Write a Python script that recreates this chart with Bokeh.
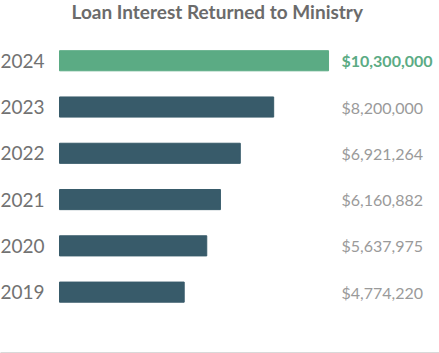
from bokeh.plotting import figure
from bokeh.models import Range1d, LinearAxis, ColumnDataSource, FixedTicker
from bokeh.core.properties import value
from bokeh.embed import file_html
from bokeh.resources import INLINE

# ---- data ----
years = [2024, 2023, 2022, 2021, 2020, 2019]
year_labels = ["2024", "2023", "2022", "2021", "2020", "2019"]
amounts = [10300000, 8200000, 6921264, 6160882, 5637975, 4774220]
amount_labels = ["$10,300,000", "$8,200,000", "$6,921,264", "$6,160,882",
                 "$5,637,975", "$4,774,220"]
highlight = [True, False, False, False, False, False]

# ---- styles ----
GREEN = "#5BAB84"
DARK = "#385B6A"
bar_colors = [GREEN if h else DARK for h in highlight]
label_colors = [GREEN if h else "#9a9a9a" for h in highlight]
label_weights = ["bold" if h else "normal" for h in highlight]

W, H = 439, 353
PX_PER_UNIT_X = 26.12 / 1e6   # pixels per dollar
BAR_LEFT_PX = 59
XMIN = -BAR_LEFT_PX / PX_PER_UNIT_X
XMAX = (W - BAR_LEFT_PX) / PX_PER_UNIT_X
VALUE_X = (341 - BAR_LEFT_PX) / PX_PER_UNIT_X

TITLE_STANDOFF = -6
FRAME_TOP = 26 + TITLE_STANDOFF   # title panel height (text height + standoff)
FRAME_BOTTOM = 352
ROW_PX = 46
YEND = years[0] + (61 - FRAME_TOP) / ROW_PX
YSTART = YEND - (FRAME_BOTTOM - FRAME_TOP) / ROW_PX

src = ColumnDataSource(dict(
    year=years, year_label=year_labels, amount=amounts,
    amount_label=amount_labels, bar_color=bar_colors,
    label_color=label_colors, label_weight=label_weights,
    xmin=[XMIN] * len(years), xval=[VALUE_X] * len(years),
))

p = figure(width=W, height=H, output_backend="svg", toolbar_location=None,
           x_range=Range1d(XMIN, XMAX), y_range=Range1d(YSTART, YEND),
           min_border_left=0, min_border_right=0, min_border_top=0,
           min_border_bottom=0, x_axis_type=None, y_axis_type=None,
           title="Loan Interest Returned to Ministry")
p.outline_line_color = None
p.grid.visible = False
p.background_fill_color = "white"
p.border_fill_color = "white"

p.title.text_font = "Lato"
p.title.text_font_size = "19px"
p.title.text_font_style = "bold"
p.title.text_color = "#6b6b6b"
p.title.align = "left"
p.title.offset = 71
p.title.standoff = TITLE_STANDOFF

xa = LinearAxis(ticker=FixedTicker(ticks=[]), major_tick_line_color=None,
                minor_tick_line_color=None, major_tick_out=0, major_tick_in=0,
                minor_tick_out=0, minor_tick_in=0, major_label_standoff=0,
                axis_line_color="#b4b4b4", axis_line_width=2)
p.add_layout(xa, "below")

p.hbar(y="year", left=0, right="amount", height=0.435, color="bar_color",
       source=src)

p.text(x="xmin", y="year", text="year_label", source=src,
       text_font=value("Lato"), text_font_size="19px", text_color="#727272",
       text_align="left", text_baseline="middle")

p.text(x="xval", y="year", text="amount_label", source=src,
       text_font=value("Lato"), text_font_size="16px", text_color="label_color",
       text_font_style="label_weight", text_align="left",
       text_baseline="middle")

open("out.html", "w").write(file_html(p, INLINE))
